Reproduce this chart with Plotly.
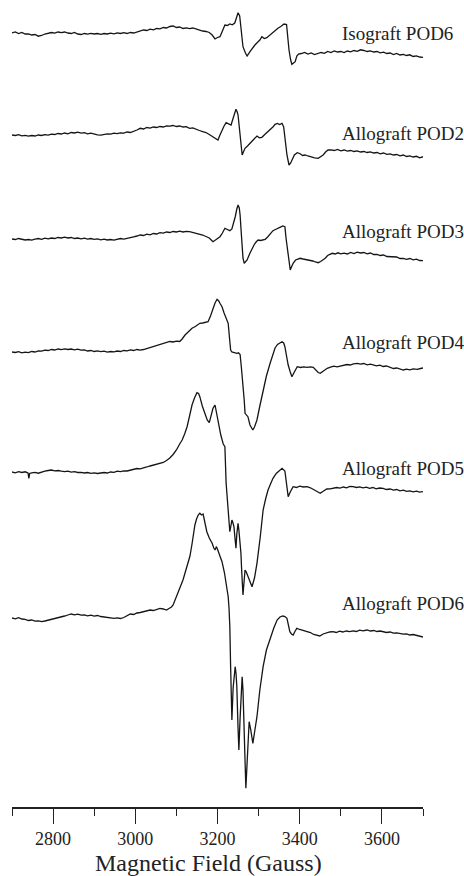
import plotly.graph_objects as go

# ---------------- data (field in Gauss, signal in arbitrary units, +up) ----------------
labels = ["Isograft POD6", "Allograft POD2", "Allograft POD3",
          "Allograft POD4", "Allograft POD5", "Allograft POD6"]

field_iso6 = [2700, 2708, 2716, 2724, 2732, 2740, 2748, 2756, 2764, 2772, 2780, 2788, 2796, 2804,
              2812, 2820, 2828, 2836, 2844, 2852, 2860, 2868, 2876, 2884, 2892, 2900, 2908, 2916,
              2924, 2932, 2940, 2948, 2956, 2964, 2972, 2980, 2988, 2996, 3004, 3012, 3020, 3028,
              3036, 3044, 3052, 3060, 3068, 3076, 3084, 3092, 3100, 3108, 3116, 3124, 3132, 3140,
              3148, 3156, 3164, 3172, 3180, 3187, 3194, 3200, 3206, 3212, 3218, 3224, 3230, 3236,
              3242, 3246, 3250, 3254, 3258, 3262, 3268, 3272, 3279, 3285, 3291, 3297, 3303, 3308,
              3314, 3320, 3327, 3333, 3340, 3347, 3354, 3362, 3368, 3371, 3374, 3378, 3381, 3385,
              3389, 3393, 3397, 3404, 3412, 3420, 3428, 3436, 3444, 3452, 3460, 3468, 3476, 3484,
              3492, 3500, 3508, 3516, 3524, 3532, 3540, 3548, 3556, 3564, 3572, 3580, 3588, 3596,
              3604, 3612, 3620, 3628, 3636, 3644, 3652, 3660, 3668, 3676, 3684, 3692, 3700]
signal_iso6 = [0, 1, -0.5, 0.5, -1, -0.8, -2, -1.5, -3.2, -2.5, -1, -0.5, 0.5, -0.2,
               1, 0.3, 1, 0, -0.5, 0.5, -1, -1.5, -0.5, -1.2, -0.3, -1, -0.5, -1.3,
               -0.5, -1, -0.2, -0.8, 0.2, -0.5, 0.3, -0.5, 0.5, 0, 1.2, 2.5, 3, 2.5,
               3.8, 3.2, 4.5, 4.2, 5.5, 5, 6.5, 7, 5.5, 6, 4.5, 5.2, 4.3, 5,
               3.8, 3.2, 2, 1.5, 0.5, -2, -6, -4.5, -3.7, 2, 8, 7.5, 9, 8.2,
               10, 15, 20.3, 17, 0, -13.7, -20, -23, -18.7, -15, -12, -9.5, -7, -3.7,
               -5.5, -4.7, -2, -0.3, 2.5, 4.7, 6.5, 9, 8.5, -5, -17, -27, -31.3, -30,
               -28.7, -23, -21, -20.5, -19.5, -21, -20, -21.5, -20.5, -19.5, -20.3, -18.5, -19.5, -18,
               -19, -18.5, -19.5, -18, -18.8, -17.5, -18.3, -16.8, -17.5, -18.5, -17.8, -19, -18.5, -19.8,
               -19.2, -20.5, -20, -21.5, -20.5, -22, -21.3, -22.5, -21.8, -23.5, -22.8, -24, -24.3]

field_allo2 = [2700, 2708, 2716, 2724, 2732, 2740, 2748, 2756, 2764, 2772, 2780, 2788, 2796, 2804,
               2812, 2820, 2828, 2836, 2844, 2852, 2860, 2868, 2876, 2884, 2892, 2900, 2908, 2916,
               2924, 2932, 2940, 2948, 2956, 2964, 2972, 2980, 2988, 2996, 3004, 3012, 3020, 3028,
               3036, 3044, 3052, 3060, 3068, 3076, 3084, 3092, 3100, 3108, 3116, 3124, 3132, 3140,
               3148, 3156, 3164, 3172, 3180, 3188, 3195, 3201, 3206, 3211, 3216, 3221, 3227, 3233,
               3238, 3242, 3245, 3248, 3250, 3253, 3255, 3258, 3260, 3264, 3267, 3273, 3279, 3285,
               3291, 3296, 3302, 3308, 3315, 3323, 3330, 3336, 3340, 3346, 3351, 3357, 3361, 3364,
               3367, 3369, 3372, 3374, 3378, 3381, 3387, 3394, 3400, 3407, 3413, 3420, 3428, 3436,
               3445, 3451, 3457, 3463, 3469, 3476, 3484, 3492, 3500, 3508, 3516, 3524, 3532, 3540,
               3548, 3556, 3564, 3572, 3580, 3588, 3596, 3604, 3612, 3620, 3628, 3636, 3644, 3652,
               3660, 3668, 3676, 3684, 3692, 3700]
signal_allo2 = [0, -0.5, 0.3, -0.8, -0.3, -1.2, -0.5, -1, 0, -0.5, 0.3, -0.2, 0.8, 0.5,
                1.5, 1, 2, 1.2, 2.5, 2, 2.8, 1.8, 2.3, 1.2, 1.8, 0.8, 0.2, -0.2,
                0.8, 1.2, 0.8, 1.8, 1.3, 2.2, 1.8, 3, 2.5, 3.5, 5, 6.7, 6, 7.5,
                6.8, 8, 7.5, 8.5, 8, 9.2, 8.8, 9.5, 8.5, 9, 8, 8.3, 6.7, 7.2,
                5.5, 4.5, 3.3, 2.5, 0.5, -1.5, -3.5, -5, 0, 5, 9, 12.3, 11, 10,
                16.7, 22, 25.7, 23, 20, 8, -1.7, -12, -20, -16, -13.3, -11, -8.3, -6,
                -3.5, -1, -2.8, -2.3, 0.5, 3.3, 6, 8.5, 10.7, 11.5, 10.5, 11.7, 8, -5,
                -15, -20, -26, -30, -28, -25, -20, -17.7, -18.5, -20.5, -20, -21, -22, -22.8,
                -23.3, -22, -20, -17, -15, -14.8, -15.5, -14.5, -15.8, -15, -16.2, -15.5, -16.5, -15.8,
                -17, -16.5, -17.5, -16.8, -18, -17.5, -18.8, -18, -19.3, -18.8, -20, -19.5, -20.8, -20,
                -21.5, -20.8, -22, -21.3, -22.8, -21.7]

field_allo3 = [2700, 2708, 2716, 2724, 2732, 2740, 2748, 2756, 2764, 2772, 2780, 2788, 2796, 2804,
               2812, 2820, 2828, 2836, 2844, 2852, 2860, 2868, 2876, 2884, 2892, 2900, 2908, 2916,
               2924, 2932, 2940, 2948, 2956, 2964, 2972, 2980, 2988, 2996, 3004, 3012, 3020, 3028,
               3036, 3044, 3052, 3060, 3068, 3076, 3084, 3092, 3100, 3108, 3116, 3124, 3132, 3140,
               3148, 3156, 3164, 3172, 3180, 3186, 3189, 3195, 3200, 3206, 3212, 3218, 3224, 3230,
               3235, 3238, 3243, 3247, 3250, 3253, 3255, 3258, 3260, 3262, 3265, 3268, 3272, 3278,
               3284, 3290, 3295, 3299, 3305, 3311, 3316, 3322, 3329, 3335, 3341, 3347, 3353, 3359,
               3364, 3367, 3370, 3372, 3375, 3377, 3380, 3384, 3390, 3395, 3401, 3408, 3416, 3425,
               3432, 3438, 3445, 3451, 3457, 3462, 3468, 3474, 3479, 3486, 3493, 3500, 3508, 3516,
               3524, 3532, 3540, 3548, 3556, 3564, 3572, 3580, 3588, 3596, 3604, 3612, 3620, 3628,
               3636, 3644, 3652, 3660, 3668, 3676, 3684, 3692, 3700]
signal_allo3 = [0, -0.5, 0.5, -0.3, -1, -0.5, -1.2, -0.2, 0.5, -0.3, 0.8, 0.2, 1, 0.5,
                1.5, 1, 1.8, 1, 1.5, 0.5, 1, 0.2, 0.8, -0.2, 0.5, -0.3, 0.2, -0.8,
                -0.2, -1, -0.5, -1.2, -0.3, 0.5, -0.2, 0.8, 1.5, 2.2, 3, 4, 3.5, 4.8,
                4.2, 5.5, 5, 6.3, 5.8, 7, 6.5, 7.5, 7, 7.8, 7, 7.6, 7.3, 6.5,
                5.8, 4.8, 4, 2.5, 1, -1.5, -2.7, -1, 0.5, 2.3, 6, 10.7, 9.5, 8.3,
                10, 14, 22, 30, 34, 31, 24, 5, -11, -19, -24.3, -23, -21, -15,
                -9.3, -5, -2.5, -1, -1.5, -0.8, -0.3, 2, 5.5, 8.3, 9.5, 11, 11.8, 13,
                12.3, 0, -10, -17.7, -26, -31, -28, -24.3, -21, -20, -19.3, -20, -20.5, -21,
                -22, -23, -23.7, -22.5, -21, -19.3, -16.5, -15, -14.3, -15, -13.8, -14.8, -14.2, -15,
                -13.5, -14.5, -13.2, -14, -13.5, -14.8, -14, -15.5, -15.3, -16.5, -16, -17.5, -17.7, -18.5,
                -18, -19.5, -19.3, -20.3, -19.5, -20.8, -20.2, -21.5, -21.7]

field_allo4 = [2700, 2708, 2716, 2724, 2732, 2740, 2748, 2756, 2764, 2772, 2780, 2788, 2796, 2804,
               2812, 2820, 2828, 2836, 2844, 2852, 2860, 2868, 2876, 2884, 2892, 2900, 2908, 2916,
               2924, 2932, 2940, 2948, 2956, 2964, 2972, 2980, 2988, 2996, 3004, 3012, 3020, 3028,
               3036, 3044, 3052, 3060, 3068, 3076, 3084, 3092, 3100, 3108, 3114, 3121, 3128, 3138,
               3146, 3152, 3157, 3164, 3170, 3177, 3183, 3189, 3194, 3199, 3203, 3207, 3211, 3216,
               3221, 3226, 3229, 3232, 3235, 3241, 3247, 3251, 3255, 3258, 3262, 3265, 3267, 3271,
               3274, 3279, 3283, 3286, 3290, 3296, 3303, 3311, 3319, 3328, 3334, 3340, 3346, 3351,
               3357, 3361, 3364, 3368, 3372, 3377, 3381, 3387, 3394, 3402, 3410, 3418, 3426, 3433,
               3440, 3445, 3450, 3458, 3467, 3475, 3483, 3491, 3499, 3507, 3515, 3523, 3531, 3540,
               3548, 3556, 3564, 3572, 3579, 3587, 3595, 3603, 3611, 3620, 3628, 3636, 3644, 3652,
               3660, 3668, 3676, 3686, 3694, 3700]
signal_allo4 = [0, -0.5, 0.3, -0.8, -0.2, -0.7, 0.5, 0, 1.2, 0.8, 1.8, 1.5, 2.5, 2,
                3, 2.3, 3.2, 2.5, 3, 2.2, 2.8, 1.8, 2.2, 1, 1.5, 0.5, 1.2, 0.3,
                0.8, -0.2, 0.5, 0.2, 1, 0.5, 1.5, 1.2, 2.2, 1.5, 2.5, 1.8, 2.5, 3.5,
                4.5, 5.5, 7, 8, 8.8, 9.5, 10.5, 10, 10.8, 10.5, 13, 17, 20, 23.7,
                25.5, 27, 28.7, 29, 29.5, 30.3, 36, 43.7, 49, 52.7, 51, 48, 45.3, 39,
                33, 28.7, 15, 2, 0, -1, -1.3, -0.8, -2.5, -15, -31, -48, -61.3, -63.5,
                -64.7, -73, -76, -78, -75, -68, -54, -38, -24, -11.3, -3, 4, 7.5, 9,
                10.3, 9, 5.3, -4, -13, -20, -24.7, -20, -14.7, -15.5, -14.8, -15.3, -14.8, -15.3,
                -18, -20.5, -21.3, -18.5, -16.3, -15.2, -14.2, -14.8, -14, -13.2, -12.5, -13, -11.8, -11.3,
                -12.2, -11.5, -12.8, -12.2, -13, -13.8, -13.2, -14.5, -14, -15.3, -16.5, -16, -17.2, -18,
                -17.2, -17.8, -16.8, -17.3, -16.5, -16]

field_allo5 = [2700, 2708, 2716, 2724, 2732, 2737, 2739, 2741, 2743, 2748, 2756, 2764, 2772, 2780,
               2788, 2796, 2804, 2812, 2820, 2828, 2836, 2844, 2852, 2860, 2868, 2876, 2884, 2892,
               2900, 2908, 2916, 2924, 2932, 2940, 2948, 2956, 2964, 2972, 2980, 2988, 2996, 3004,
               3012, 3020, 3028, 3036, 3044, 3052, 3060, 3068, 3076, 3084, 3092, 3100, 3108, 3114,
               3120, 3126, 3132, 3138, 3144, 3150, 3154, 3157, 3163, 3170, 3175, 3180, 3184, 3187,
               3189, 3194, 3198, 3201, 3208, 3214, 3218, 3221, 3224, 3226, 3228, 3230, 3233, 3235,
               3237, 3240, 3243, 3245, 3247, 3250, 3252, 3255, 3257, 3259, 3262, 3265, 3267, 3270,
               3274, 3279, 3284, 3290, 3296, 3304, 3311, 3317, 3323, 3329, 3335, 3343, 3350, 3357,
               3364, 3368, 3372, 3377, 3384, 3392, 3400, 3409, 3418, 3426, 3434, 3442, 3450, 3458,
               3466, 3474, 3482, 3490, 3498, 3506, 3514, 3522, 3530, 3538, 3546, 3554, 3562, 3570,
               3578, 3586, 3594, 3603, 3611, 3620, 3628, 3636, 3644, 3652, 3660, 3668, 3676, 3684,
               3692, 3700]
signal_allo5 = [0, -0.8, 0.3, -0.5, 0.2, -0.5, -1, -6.3, -1.5, -0.8, -0.3, -1.2, 0, 0.8,
                1.5, 2, 1.2, 1.5, 0.8, 0.3, 0.8, -0.2, 0.3, -0.5, -0.3, -1, -0.5, -1.3,
                -0.8, -1.5, -1, -0.5, -1, 0, -0.3, 0.8, 0.3, 1.2, 1, 2, 2.5, 3.5,
                3.2, 4.5, 5, 6, 6.8, 7.5, 8.5, 9.5, 11.5, 14, 17.5, 22, 28, 32,
                38, 45.3, 56, 67, 74, 79.3, 78.5, 75.3, 66, 57, 52, 49.3, 55, 60,
                63.7, 67, 58, 48.7, 37, 28, 25.3, -11.3, -30, -44.7, -55, -59.7, -53, -48,
                -50, -54.7, -68, -76.3, -62, -51.3, -58, -70, -81.3, -100, -123, -108, -98, -100,
                -104.7, -110, -114.7, -106, -91.3, -65, -38, -27, -18, -12, -6.3, -1.5, 1.5, 3.7,
                1, -12, -24.7, -20, -14.7, -15.5, -14.2, -15, -14.7, -15.8, -17.5, -20, -21.3, -19,
                -17, -16.8, -16.3, -15.5, -16.2, -15, -15.8, -14.5, -14.7, -15.5, -14.8, -15.8, -15.2, -16.3,
                -15.5, -16.8, -16, -16.3, -17.5, -17, -18.2, -17.5, -18.8, -18.2, -19.3, -18.8, -19.8, -19.2,
                -20.2, -19.7]

field_allo6 = [2700, 2708, 2716, 2724, 2732, 2740, 2748, 2756, 2764, 2772, 2780, 2788, 2796, 2804,
               2812, 2820, 2828, 2836, 2844, 2852, 2860, 2868, 2876, 2884, 2892, 2900, 2908, 2916,
               2924, 2932, 2940, 2948, 2956, 2964, 2972, 2980, 2988, 2996, 3004, 3012, 3020, 3028,
               3036, 3044, 3052, 3060, 3068, 3076, 3082, 3088, 3092, 3097, 3101, 3109, 3116, 3121,
               3126, 3133, 3138, 3142, 3145, 3149, 3153, 3157, 3161, 3165, 3170, 3174, 3180, 3187,
               3191, 3194, 3197, 3199, 3205, 3211, 3217, 3223, 3226, 3228, 3230, 3232, 3235, 3238,
               3241, 3243, 3245, 3247, 3250, 3252, 3255, 3258, 3260, 3262, 3264, 3267, 3269, 3272,
               3274, 3277, 3281, 3286, 3291, 3296, 3303, 3311, 3319, 3328, 3337, 3345, 3352, 3359,
               3364, 3369, 3373, 3376, 3380, 3384, 3389, 3393, 3400, 3409, 3418, 3426, 3434, 3442,
               3449, 3457, 3465, 3473, 3481, 3489, 3497, 3505, 3513, 3522, 3530, 3538, 3546, 3554,
               3564, 3572, 3580, 3588, 3596, 3603, 3611, 3620, 3628, 3636, 3644, 3652, 3660, 3668,
               3676, 3684, 3692, 3700]
signal_allo6 = [0, -0.8, 0.3, -1, -1.3, -2.5, -2, -3.2, -2.8, -3.7, -3, -2.2, -1.5, -1,
                0, 1, 2, 3, 4, 3.2, 3.8, 2.8, 3.2, 2.2, 2.8, 1.8, 2.5, 1.5,
                1.2, 0.2, 0.5, -0.3, 0.2, -0.5, 0.5, 2, 4, 3.5, 5, 5.5, 6.3, 6.8,
                8, 7.5, 8.8, 9.7, 9, 8, 9.5, 11, 13, 18, 23, 31, 38, 45,
                52, 62, 74, 85, 93, 99, 103, 104.7, 103, 104, 95, 86.3, 80, 74.7,
                70, 68, 71, 70, 63, 56.3, 45, 31.3, 21.3, 10, -8.7, -50, -102, -70,
                -50, -48.7, -55, -68.7, -110, -132, -100, -70, -58.7, -72, -95.3, -140, -170.3, -145,
                -122, -103.7, -112, -125.3, -112, -98.7, -72, -48.7, -32, -20.3, -10, -2, 1, 2,
                1.5, -0.3, -8, -13.7, -16, -17, -13, -10.3, -11.5, -12.5, -13.7, -14.5, -16.5, -17.2,
                -18, -16, -14.8, -14, -13.7, -14.5, -13.2, -14, -13, -13.7, -12.8, -13.5, -12.2, -12.8,
                -12, -13, -12.5, -13.5, -13, -13.7, -14.5, -14, -15.2, -14.8, -15.3, -16.2, -15.8, -17,
                -16.5, -17.5, -18.2, -19]

x_ticks = [2800, 3000, 3200, 3400, 3600]
x_minor_ticks = [2700, 2900, 3100, 3300, 3500, 3700]
x_title = "Magnetic Field (Gauss)"

fields = [field_iso6, field_allo2, field_allo3, field_allo4, field_allo5, field_allo6]
signals = [signal_iso6, signal_allo2, signal_allo3, signal_allo4, signal_allo5, signal_allo6]

# ---------------- layout / styling ----------------
W, H = 464, 876
L, R, T, B = 12, 41, 0, 69
plot_h = H - T - B
offsets = [33, 135, 239, 352, 472, 618]          # vertical stacking offsets (screen units)
label_y = [33, 133, 232, 342, 468, 603]
FONT = "Liberation Serif, Times New Roman, serif"

fig = go.Figure()
for f, s, off in zip(fields, signals, offsets):
    fig.add_trace(go.Scatter(
        x=f, y=[v - off for v in s], mode="lines",
        line=dict(color="#151515", width=1.3), hoverinfo="skip", showlegend=False))

label_x_paper = (340 - L) / (W - L - R)
for lab, ly in zip(labels, label_y):
    fig.add_annotation(text=lab, xref="paper", yref="paper", x=label_x_paper,
                       y=(plot_h - ly) / plot_h,
                       xanchor="left", yanchor="middle", showarrow=False,
                       font=dict(family=FONT, size=19, color="#222222"))

fig.add_annotation(text=x_title, xref="paper", yref="paper", x=(208 - L) / (W - L - R),
                   y=(plot_h - 863) / plot_h,
                   xanchor="center", yanchor="middle", showarrow=False,
                   font=dict(family=FONT, size=24, color="#222222"))

fig.update_layout(
    width=W, height=H, margin=dict(l=L, r=R, t=T, b=B),
    paper_bgcolor="white", plot_bgcolor="white",
    xaxis=dict(range=[2700, 3700], tickmode="array", tickvals=x_ticks,
               ticktext=[str(v) for v in x_ticks],
               ticks="outside", ticklen=15, tickwidth=1.3, tickcolor="#222",
               showline=True, linecolor="#222", linewidth=1.5, showgrid=False, zeroline=False,
               tickfont=dict(family=FONT, size=18, color="#222"),
               minor=dict(tickvals=x_minor_ticks, ticks="outside",
                          ticklen=7, tickwidth=1.3, tickcolor="#222", showgrid=False)),
    yaxis=dict(range=[-plot_h, 0], visible=False, showgrid=False, zeroline=False),
)

fig.write_html("out.html")
